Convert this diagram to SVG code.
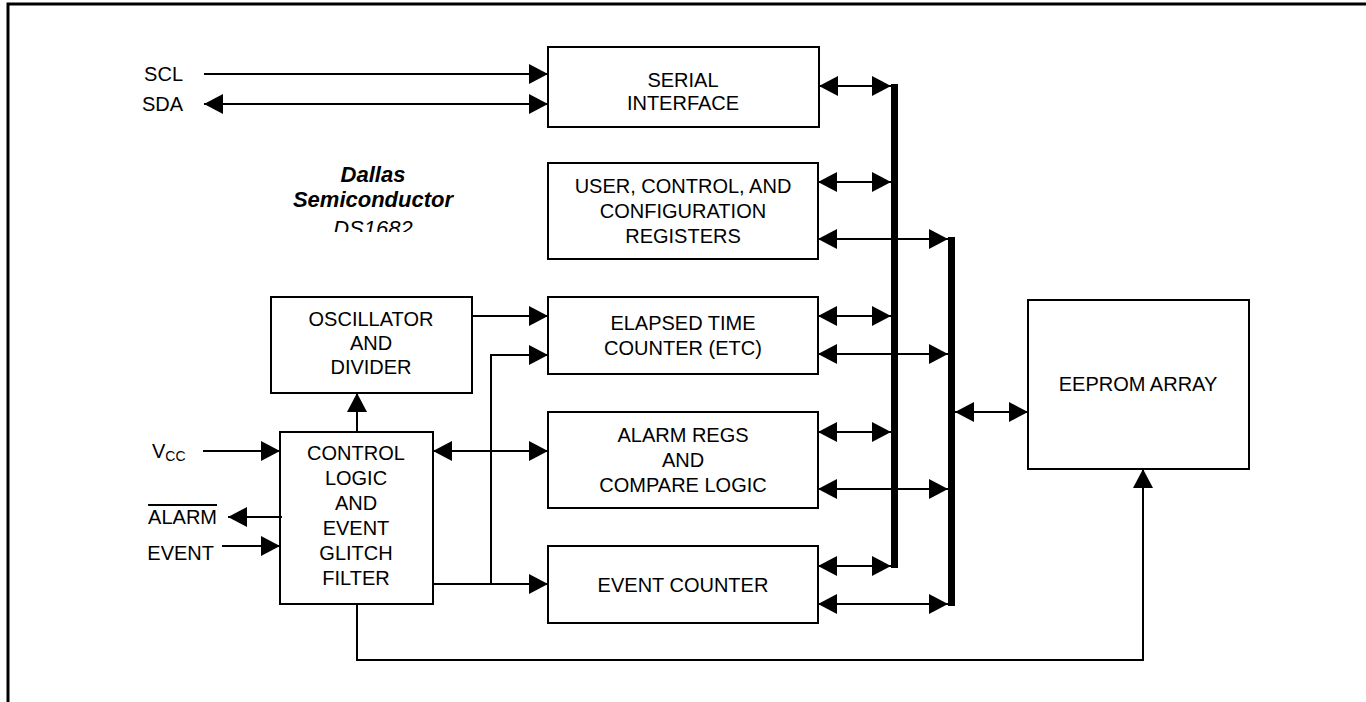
<svg xmlns="http://www.w3.org/2000/svg" width="1366" height="702" viewBox="0 0 1366 702">
<style>
.box{fill:#fff;stroke:#000;stroke-width:2}
.t{font-family:"Liberation Sans",Arial,sans-serif;font-size:20px;fill:#000;text-anchor:middle}
.l{font-family:"Liberation Sans",Arial,sans-serif;font-size:20px;fill:#000;text-anchor:end}
.w{fill:none;stroke:#000;stroke-width:2}
.bus{fill:#000}
.brand{font-family:"Liberation Sans",Arial,sans-serif;font-size:22px;font-style:italic;text-anchor:middle;fill:#000}
</style>
<defs>
<marker id="ah" markerUnits="userSpaceOnUse" markerWidth="19" markerHeight="20" refX="19" refY="10" orient="auto-start-reverse" viewBox="0 0 19 20">
<path d="M0,0 L19,10 L0,20 z" fill="#000"/>
</marker>
<clipPath id="clipDS"><rect x="250" y="150" width="250" height="82"/></clipPath>
</defs>
<rect width="1366" height="702" fill="#fff"/>
<path d="M8,702 V4 H1366" fill="none" stroke="#000" stroke-width="3"/>

<g id="brand">
<text class="brand" x="373" y="182" font-weight="bold">Dallas</text>
<text class="brand" x="373" y="207" font-weight="bold">Semiconductor</text>
<text class="brand" x="373" y="236" clip-path="url(#clipDS)">DS1682</text>
</g>

<g id="labels">
<text class="l" x="183" y="81">SCL</text>
<text class="l" x="183" y="111">SDA</text>
<text class="t" style="text-anchor:start" x="152" y="458">V<tspan font-size="14" dy="3">CC</tspan></text>
<text class="l" x="217" y="524" text-decoration="overline">ALARM</text>
<text class="l" x="214" y="560">EVENT</text>
</g>

<g id="serial"><rect class="box" x="548" y="47" width="271" height="80"/>
<text class="t" x="683" y="87">SERIAL</text><text class="t" x="683" y="110">INTERFACE</text></g>

<g id="user"><rect class="box" x="548" y="163" width="270" height="96"/>
<text class="t" x="683" y="193">USER, CONTROL, AND</text><text class="t" x="683" y="218">CONFIGURATION</text><text class="t" x="683" y="243">REGISTERS</text></g>

<g id="elapsed"><rect class="box" x="548" y="297" width="270" height="77"/>
<text class="t" x="683" y="330">ELAPSED TIME</text><text class="t" x="683" y="355">COUNTER (ETC)</text></g>

<g id="alarm"><rect class="box" x="548" y="412" width="270" height="96"/>
<text class="t" x="683" y="442">ALARM REGS</text><text class="t" x="683" y="467">AND</text><text class="t" x="683" y="492">COMPARE LOGIC</text></g>

<g id="eventcounter"><rect class="box" x="548" y="546" width="270" height="77"/>
<text class="t" x="683" y="592">EVENT COUNTER</text></g>

<g id="oscillator"><rect class="box" x="271" y="297" width="201" height="96"/>
<text class="t" x="371" y="326">OSCILLATOR</text><text class="t" x="371" y="350">AND</text><text class="t" x="371" y="374">DIVIDER</text></g>

<g id="control"><rect class="box" x="280" y="432" width="153" height="172"/>
<text class="t" x="356" y="460">CONTROL</text><text class="t" x="356" y="485">LOGIC</text><text class="t" x="356" y="510">AND</text><text class="t" x="356" y="535">EVENT</text><text class="t" x="356" y="560">GLITCH</text><text class="t" x="356" y="585">FILTER</text></g>

<g id="eeprom"><rect class="box" x="1028" y="300" width="221" height="169"/>
<text class="t" x="1138" y="391">EEPROM ARRAY</text></g>

<g id="connectors">
<rect class="bus" x="891" y="84" width="7" height="484"/>
<rect class="bus" x="948" y="237" width="7" height="369"/>
<line class="w" x1="204" y1="74" x2="548" y2="74" marker-end="url(#ah)"/>
<line class="w" x1="204" y1="104" x2="548" y2="104" marker-start="url(#ah)" marker-end="url(#ah)"/>
<line class="w" x1="819" y1="86" x2="891" y2="86" marker-start="url(#ah)" marker-end="url(#ah)"/>
<line class="w" x1="818" y1="182" x2="891" y2="182" marker-start="url(#ah)" marker-end="url(#ah)"/>
<line class="w" x1="818" y1="316" x2="891" y2="316" marker-start="url(#ah)" marker-end="url(#ah)"/>
<line class="w" x1="818" y1="432" x2="891" y2="432" marker-start="url(#ah)" marker-end="url(#ah)"/>
<line class="w" x1="818" y1="566" x2="891" y2="566" marker-start="url(#ah)" marker-end="url(#ah)"/>
<line class="w" x1="818" y1="239" x2="948" y2="239" marker-start="url(#ah)" marker-end="url(#ah)"/>
<line class="w" x1="818" y1="354" x2="948" y2="354" marker-start="url(#ah)" marker-end="url(#ah)"/>
<line class="w" x1="818" y1="489" x2="948" y2="489" marker-start="url(#ah)" marker-end="url(#ah)"/>
<line class="w" x1="818" y1="604" x2="948" y2="604" marker-start="url(#ah)" marker-end="url(#ah)"/>
<line class="w" x1="955" y1="412" x2="1028" y2="412" marker-start="url(#ah)" marker-end="url(#ah)"/>
<line class="w" x1="203" y1="451" x2="280" y2="451" marker-end="url(#ah)"/>
<line class="w" x1="282" y1="517" x2="228" y2="517" marker-end="url(#ah)"/>
<line class="w" x1="222" y1="546" x2="280" y2="546" marker-end="url(#ah)"/>
<line class="w" x1="357" y1="432" x2="357" y2="393" marker-end="url(#ah)"/>
<line class="w" x1="472" y1="316" x2="548" y2="316" marker-end="url(#ah)"/>
<line class="w" x1="433" y1="451" x2="548" y2="451" marker-start="url(#ah)" marker-end="url(#ah)"/>
<path class="w" d="M491,584 V355 H548" marker-end="url(#ah)"/>
<line class="w" x1="433" y1="584" x2="548" y2="584" marker-end="url(#ah)"/>
<path class="w" d="M357,604 V660 H1143 V469" marker-end="url(#ah)"/>
</g>
</svg>
